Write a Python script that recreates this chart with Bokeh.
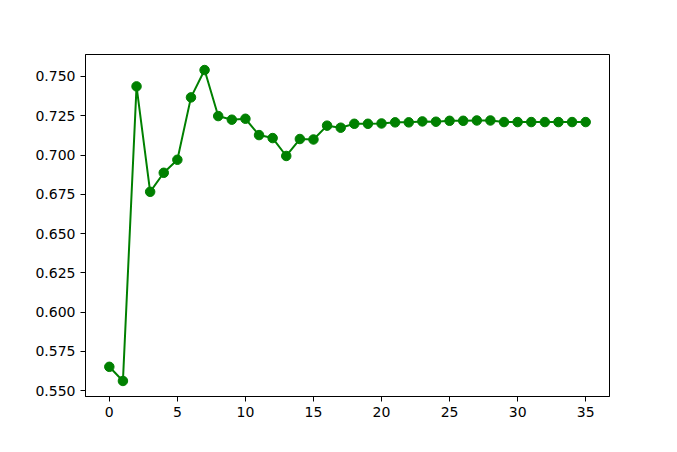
from bokeh.plotting import figure
from bokeh.models import FixedTicker, NumeralTickFormatter, Range1d
from bokeh.embed import file_html
from bokeh.resources import INLINE

epochs = list(range(36))
scores = [0.5652, 0.5562, 0.7437, 0.6766, 0.6887, 0.6970, 0.7367, 0.7541,
          0.7248, 0.7225, 0.7231, 0.7127, 0.7108, 0.6994, 0.7102, 0.7099,
          0.7187, 0.7174, 0.7199, 0.7199, 0.7201, 0.7208, 0.7208, 0.7214,
          0.7212, 0.7218, 0.7218, 0.7220, 0.7220, 0.7210, 0.7210, 0.7210,
          0.7210, 0.7210, 0.7210, 0.7210]
x_ticks = [0, 5, 10, 15, 20, 25, 30, 35]
y_ticks = [0.550, 0.575, 0.600, 0.625, 0.650, 0.675, 0.700, 0.725, 0.750]

span = max(scores) - min(scores)
p = figure(width=661, height=436, output_backend="svg", toolbar_location=None,
           title=None,
           x_range=Range1d(-1.75, 36.75),
           y_range=Range1d(min(scores) - 0.05 * span, max(scores) + 0.05 * span),
           min_border_left=85, min_border_right=52, min_border_top=54,
           min_border_bottom=40)

p.line(epochs, scores, line_color="green", line_width=2)
p.scatter(epochs, scores, size=9.5, fill_color="green", line_color="green")

p.xgrid.visible = False
p.ygrid.visible = False
p.outline_line_color = "black"
p.outline_line_width = 1
p.outline_line_alpha = 1

p.xaxis.ticker = FixedTicker(ticks=x_ticks)
p.yaxis.ticker = FixedTicker(ticks=y_ticks)
p.yaxis.formatter = NumeralTickFormatter(format="0.000")
for ax in (p.xaxis, p.yaxis):
    ax.minor_tick_line_color = None
    ax.major_tick_in = 0
    ax.major_tick_out = 5
    ax.major_tick_line_color = "black"
    ax.axis_line_color = "black"
    ax.major_label_text_font = "DejaVu Sans"
    ax.major_label_text_font_size = "14px"
    ax.major_label_text_color = "black"
    ax.major_label_standoff = 5

open("out.html", "w").write(file_html(p, INLINE))
